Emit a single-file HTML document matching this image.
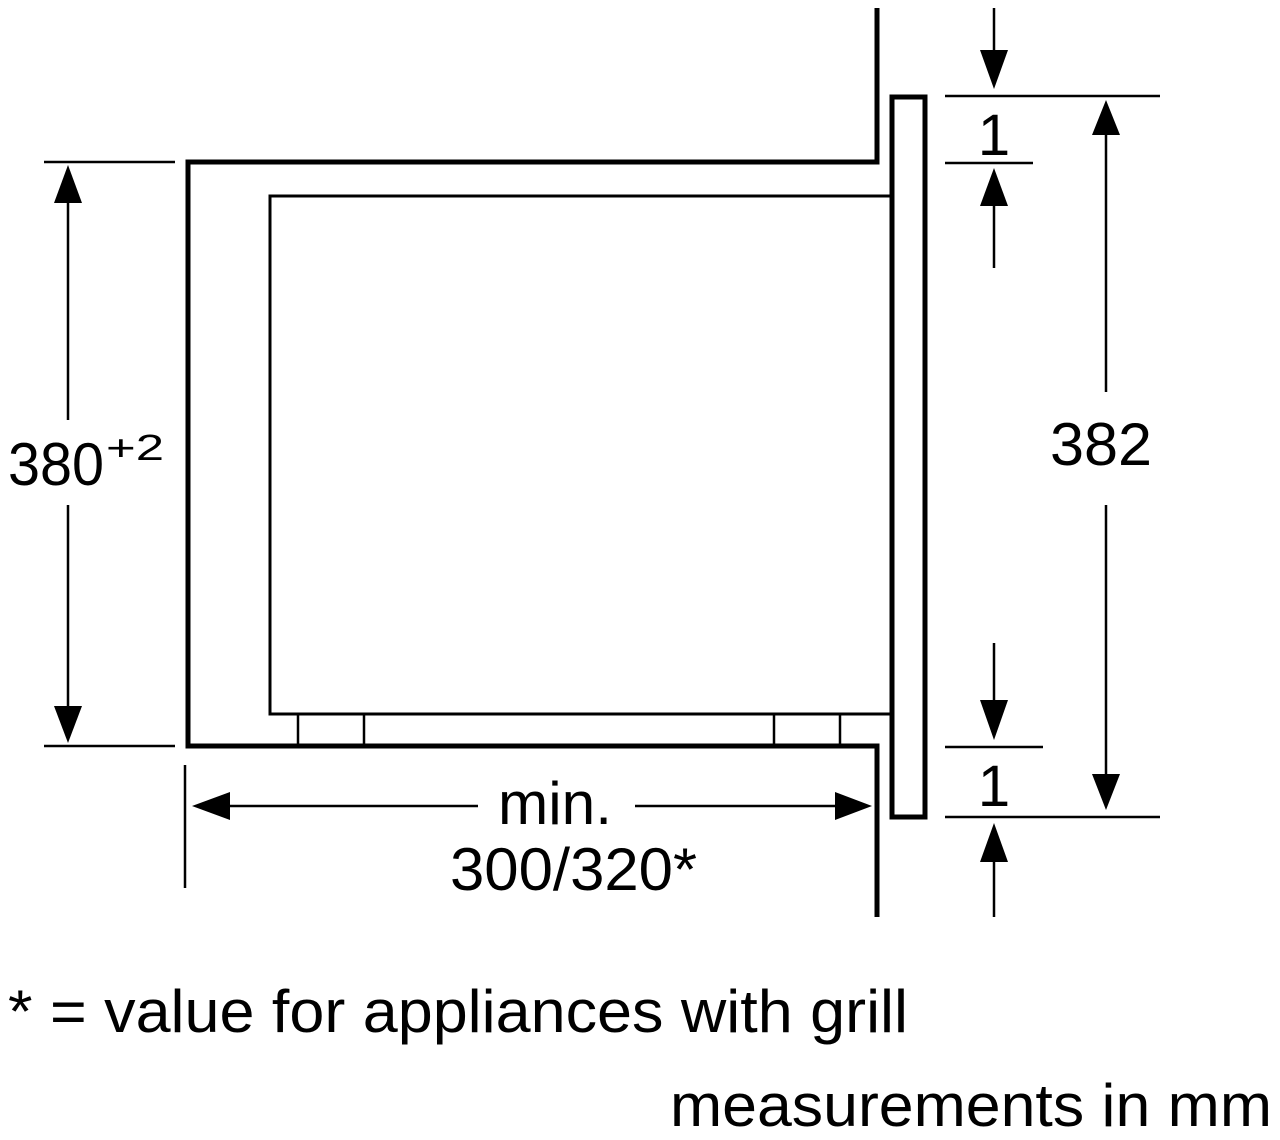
<!DOCTYPE html>
<html><head><style>
html,body{margin:0;padding:0;background:#fff;}
svg{display:block;}
text{font-family:"Liberation Sans",Arial,sans-serif;fill:#000;}
</style></head><body>
<svg width="1280" height="1140" viewBox="0 0 1280 1140" xmlns="http://www.w3.org/2000/svg">
<g fill="none" stroke="#000" stroke-linejoin="miter">
<polyline points="877,8 877,162 188,162 188,746 877,746 877,917" stroke-width="5"/>
<polyline points="890,196 270,196 270,714 890,714" stroke-width="3"/>
<line x1="298" y1="714" x2="298" y2="746" stroke-width="2.5"/>
<line x1="364" y1="714" x2="364" y2="746" stroke-width="2.5"/>
<line x1="774" y1="714" x2="774" y2="746" stroke-width="2.5"/>
<line x1="840" y1="714" x2="840" y2="746" stroke-width="2.5"/>
<rect x="892" y="97" width="33" height="720" stroke-width="5"/>
<g stroke-width="2.5">
<line x1="945" y1="96" x2="1160" y2="96"/>
<line x1="945" y1="163" x2="1033" y2="163"/>
<line x1="945" y1="747" x2="1043" y2="747"/>
<line x1="945" y1="817" x2="1160" y2="817"/>
<line x1="44" y1="162" x2="175" y2="162"/>
<line x1="44" y1="746" x2="175" y2="746"/>
<line x1="185" y1="765" x2="185" y2="888"/>
<line x1="994" y1="8" x2="994" y2="55"/>
<line x1="994" y1="205" x2="994" y2="268"/>
<line x1="994" y1="643" x2="994" y2="705"/>
<line x1="994" y1="860" x2="994" y2="917"/>
<line x1="1106" y1="130" x2="1106" y2="392"/>
<line x1="1106" y1="505" x2="1106" y2="780"/>
<line x1="68" y1="195" x2="68" y2="420"/>
<line x1="68" y1="505" x2="68" y2="715"/>
<line x1="220" y1="806" x2="478" y2="806"/>
<line x1="635" y1="806" x2="845" y2="806"/>
</g>
</g>
<g fill="#000">
<polygon points="980,50 1008,50 994,89"/>
<polygon points="980,206 1008,206 994,168"/>
<polygon points="980,700 1008,700 994,740"/>
<polygon points="980,862 1008,862 994,823"/>
<polygon points="1092,135 1120,135 1106,100"/>
<polygon points="1092,774 1120,774 1106,810"/>
<polygon points="54,203 82,203 68,165"/>
<polygon points="54,706 82,706 68,743"/>
<polygon points="230,792 230,820 192,806"/>
<polygon points="835,792 835,820 872,806"/>
</g>
<text x="994" y="155" font-size="58" text-anchor="middle">1</text>
<text x="994" y="806" font-size="58" text-anchor="middle">1</text>
<text x="1050" y="465" font-size="60" textLength="102" lengthAdjust="spacingAndGlyphs">382</text>
<text x="8" y="485" font-size="60" textLength="96" lengthAdjust="spacingAndGlyphs">380</text>
<text x="106" y="460" font-size="36" textLength="58" lengthAdjust="spacingAndGlyphs">+2</text>
<text x="498" y="824" font-size="60" textLength="114" lengthAdjust="spacingAndGlyphs">min.</text>
<text x="450" y="890" font-size="60" textLength="247" lengthAdjust="spacingAndGlyphs">300/320*</text>
<text x="8" y="1032" font-size="60" textLength="900" lengthAdjust="spacingAndGlyphs">* = value for appliances with grill</text>
<text x="670" y="1126" font-size="60" textLength="602" lengthAdjust="spacingAndGlyphs">measurements in mm</text>
</svg>
</body></html>
